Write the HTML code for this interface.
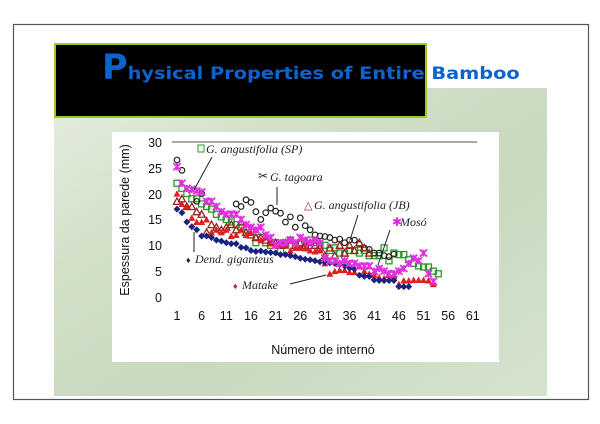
<!DOCTYPE html>
<html><head><meta charset="utf-8"><style>
html,body{margin:0;padding:0;background:#fff;width:600px;height:424px;overflow:hidden}
svg{display:block}
</style></head><body>
<svg id="s" width="600" height="424" xmlns="http://www.w3.org/2000/svg" font-family="Liberation Sans, sans-serif">
<defs>
<linearGradient id="bg" x1="0" y1="0" x2="1" y2="1">
<stop offset="0" stop-color="#e6ede0"/><stop offset="0.3" stop-color="#d2e0c8"/><stop offset="0.6" stop-color="#c8d9bf"/><stop offset="1" stop-color="#d6e3cf"/>
</linearGradient>
</defs>
<rect x="13.5" y="24.5" width="575" height="375" fill="#fff" stroke="#555" stroke-width="1.2"/>
<rect x="54" y="88" width="493" height="308" fill="url(#bg)"/>
<rect x="55" y="44" width="371" height="73" fill="#000" stroke="#9acd1a" stroke-width="2"/>
<text x="102" y="79" fill="#0a63cf" font-family="DejaVu Sans, sans-serif" font-weight="bold"><tspan font-size="35">P</tspan><tspan font-size="17" textLength="392" lengthAdjust="spacingAndGlyphs">hysical Properties of  Entire Bamboo</tspan></text>
<rect x="112" y="132" width="387" height="230" fill="#fff"/>
<line x1="172" y1="142" x2="477" y2="142" stroke="#555" stroke-width="1"/>
<g font-size="12.5" fill="#111" text-anchor="end">
<text x="162" y="147">30</text><text x="162" y="173">25</text><text x="162" y="199">20</text><text x="162" y="224">15</text><text x="162" y="250">10</text><text x="162" y="276">5</text><text x="162" y="302">0</text>
</g>
<g id="xl" font-size="12.5" fill="#111" text-anchor="middle"></g>
<text x="323" y="354" font-size="12.5" text-anchor="middle" fill="#111">Número de internó</text>
<text transform="translate(129,220) rotate(-90)" font-size="12.5" text-anchor="middle" fill="#111">Espessura da parede (mm)</text>
<g id="pts"></g>
<g font-family="Liberation Serif, serif" font-style="italic" font-size="12" fill="#222">
<rect x="198" y="145" width="6" height="7" fill="none" stroke="#2a9a2a"/>
<text x="206" y="153">G. angustifolia (SP)</text>
<text x="258" y="180" font-style="normal">✂</text><text x="270" y="181">G. tagoara</text>
<text x="304" y="209" fill="#a02020" font-style="normal" font-size="11">△</text><text x="314" y="209">G. angustifolia (JB)</text>
<text x="392" y="226" fill="#e020e0" font-style="normal">✱</text><text x="400" y="226">Mosó</text>
<text x="186" y="263" fill="#223" font-style="normal" font-size="9">♦</text><text x="195" y="263">Dend. giganteus</text>
<text x="233" y="289" fill="#d02020" font-style="normal" font-size="9">♦</text><text x="242" y="289">Matake</text>
</g>
<g stroke="#222" stroke-width="1" fill="none">
<line x1="212" y1="157" x2="194" y2="190"/>
<line x1="277" y1="187" x2="277" y2="205"/>
<line x1="358" y1="215" x2="350" y2="240"/>
<line x1="390" y1="230" x2="378" y2="265"/>
<line x1="194" y1="252" x2="194" y2="232"/>
<line x1="290" y1="284" x2="326" y2="275"/>
</g>
</svg>
<script>
var NS="http://www.w3.org/2000/svg";
function X(i){return 177+(i-1)*4.93}function Y(v){return 297-v*5.17}
var xl=document.getElementById('xl');
for(var t=1;t<=61;t+=5){var e=document.createElementNS(NS,'text');e.setAttribute('x',X(t));e.setAttribute('y',320);e.textContent=t;xl.appendChild(e);}
var g=document.getElementById('pts');
function add(tag,attrs){var e=document.createElementNS(NS,tag);for(var k in attrs)e.setAttribute(k,attrs[k]);g.appendChild(e);}
var D={
gig:[17,16.3,14.5,13.6,13,11.8,11.8,11.5,11,10.8,10.5,10.3,10.3,9.6,9.5,9,8.8,8.9,8.7,8.6,8.5,8.2,8.2,8,7.8,7.5,7.3,7.2,7,6.8,6.7,6.6,6.5,6.3,6,5.6,5.4,4.2,4,4,3.3,3.2,3.2,3.2,3.2,2,2,2],
mat:[20,18,17.5,15.3,14.5,14.5,15,12.5,13,12.5,13,11.8,12,13,12,12.5,13,11,11.5,10.5,10,10.2,10,9,9.5,9.5,9.5,9,8.8,9,6.5,4.5,5,5.2,5.2,4.8,4.8,6,5,4.5,4.3,3.8,3.6,4.2,4,2.5,3.2,3.2,3.3,3.3,3.3,3.2,2.5],
jb:[18.5,19,17.5,17.5,16.5,16,12.5,14,13.5,13,13.5,14,13,14.5,12.5,12,11.5,11.5,11,10.5,10.5,10,10.5,11,10,10.5,10,10.5,10,9.5,8,9.5,8,10,8.5,10,9,10.5,9.5,8.5],
sp:[22,21,20,19,19,18,17.5,17,16,15.5,15,14.5,14,13.5,13,12.5,10.5,11.5,10.5,10,10.5,9,10,11,10,10.5,9.5,11,10.5,10,10,9,9.5,8.5,8.5,9,9,8.5,9,8,8,8,9.5,7,8.5,8.2,8.2,7.2,6.5,6,5.8,5.8,5,4.5],
tag:[26.5,24.5,null,null,18.5,20,null,null,null,null,null,null,18,17.5,18.8,18.3,16.5,15,16.3,17.2,16.6,16.2,14.5,15.5,13.5,15.3,13.8,13,12,11.8,11.7,11.5,11,11.2,10.5,11,11,10.2,9.5,9.2,8.5,8.5,8,7.8,8.3],
mos:[25.2,22,21,20.8,20.5,20.3,18.5,18.5,17.5,16.5,16,16,16,15,14,13.5,13,13.5,12,11.5,10,10.5,10.5,11,10.5,11.5,11,10.5,11,10.5,7.5,7,7,6.5,7,6.5,6.5,6,6,6,5,5.5,5,4.5,4.5,5,5.5,6.5,7.5,7,8.5,4.5,3]};
D.sp.forEach(function(v,i){if(v==null)return;var x=X(i+1),y=Y(v);add('rect',{x:x-3,y:y-3,width:6,height:6,fill:'none',stroke:'#2a9a2a','stroke-width':1.3});});
D.tag.forEach(function(v,i){if(v==null)return;add('circle',{cx:X(i+1),cy:Y(v),r:2.8,fill:'none',stroke:'#222','stroke-width':1.2});});
D.jb.forEach(function(v,i){var x=X(i+1),y=Y(v);add('polygon',{points:(x-3.5)+','+(y+3)+' '+(x+3.5)+','+(y+3)+' '+x+','+(y-3.5),fill:'none',stroke:'#9a2020','stroke-width':1.3});});
D.mat.forEach(function(v,i){var x=X(i+1),y=Y(v);add('polygon',{points:(x-3.5)+','+(y+3)+' '+(x+3.5)+','+(y+3)+' '+x+','+(y-3.5),fill:'#e02020'});});
D.gig.forEach(function(v,i){var x=X(i+1),y=Y(v);add('polygon',{points:x+','+(y-3.5)+' '+(x+3.5)+','+y+' '+x+','+(y+3.5)+' '+(x-3.5)+','+y,fill:'#1a237e'});});
D.mos.forEach(function(v,i){var x=X(i+1),y=Y(v),s=3.6;add('path',{d:'M'+(x-s)+' '+(y-s)+'L'+(x+s)+' '+(y+s)+'M'+(x+s)+' '+(y-s)+'L'+(x-s)+' '+(y+s)+'M'+x+' '+(y-s)+'L'+x+' '+(y+s),stroke:'#e030e0','stroke-width':1.8});});
</script>
</body></html>
